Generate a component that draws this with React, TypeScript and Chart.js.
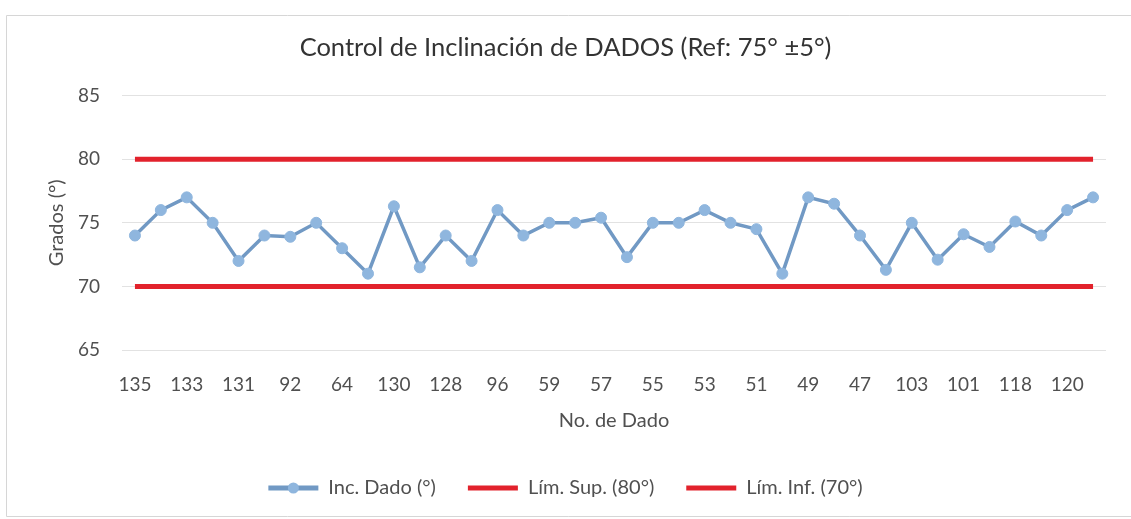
import React, { useEffect, useRef } from "react";
import { Chart, registerables } from "chart.js";

Chart.register(...registerables);

const categories = [
  "135", "134", "133", "132", "131", "93", "92", "65", "64", "129",
  "130", "127", "128", "95", "96", "58", "59", "56", "57", "54",
  "55", "52", "53", "50", "51", "48", "49", "46", "47", "102",
  "103", "100", "101", "117", "118", "119", "120", "121",
];

const incDado = [
  74, 76, 77, 75, 72, 74, 73.9, 75, 73, 71,
  76.3, 71.5, 74, 72, 76, 74, 75, 75, 75.4, 72.3,
  75, 75, 76, 75, 74.5, 71, 77, 76.5, 74, 71.3,
  75, 72.1, 74.1, 73.1, 75.1, 74, 76, 77,
];

const limSup = [
  80, 80, 80, 80, 80, 80, 80, 80, 80, 80,
  80, 80, 80, 80, 80, 80, 80, 80, 80, 80,
  80, 80, 80, 80, 80, 80, 80, 80, 80, 80,
  80, 80, 80, 80, 80, 80, 80, 80,
];

const limInf = [
  70, 70, 70, 70, 70, 70, 70, 70, 70, 70,
  70, 70, 70, 70, 70, 70, 70, 70, 70, 70,
  70, 70, 70, 70, 70, 70, 70, 70, 70, 70,
  70, 70, 70, 70, 70, 70, 70, 70,
];

const seriesNames = ["Inc. Dado (°)", "Lím. Sup. (80°)", "Lím. Inf. (70°)"];
const titleText = "Control de Inclinación de DADOS (Ref: 75° ±5°)";
const yTitle = "Grados (°)";
const xTitle = "No. de Dado";

const FONT = "Lato, 'Open Sans', sans-serif";
const TEXT = "#505050";
const BLUE_LINE = "#7199c4";
const BLUE_MARK = "#8fb6de";
const RED = "#e2222c";
const LEGEND_BOX = 50;

export default function App() {
  const ref = useRef<HTMLCanvasElement>(null);

  useEffect(() => {
    document.body.style.margin = "0";
    const frame = {
      id: "frame",
      beforeDraw(chart: any) {
        const ctx = chart.ctx;
        ctx.save();
        ctx.fillStyle = "#ffffff";
        ctx.fillRect(0, 0, chart.width, chart.height);
        ctx.strokeStyle = "#d6d6d6";
        ctx.lineWidth = 1;
        ctx.beginPath();
        ctx.moveTo(1131, 15.5);
        ctx.lineTo(6.5, 15.5);
        ctx.lineTo(6.5, 516.5);
        ctx.lineTo(1131, 516.5);
        ctx.stroke();
        ctx.restore();
      },
      afterDraw(chart: any) {
        const boxes = chart.legend && chart.legend.legendHitBoxes;
        if (!boxes || !boxes[0]) return;
        const b = boxes[0];
        const ctx = chart.ctx;
        ctx.save();
        ctx.fillStyle = BLUE_MARK;
        ctx.beginPath();
        ctx.arc(b.left + LEGEND_BOX / 2, b.top + b.height / 2, 5.5, 0, Math.PI * 2);
        ctx.fill();
        ctx.restore();
      },
    };

    const chart = new Chart(ref.current!, {
      type: "line",
      data: {
        labels: categories,
        datasets: [
          {
            label: seriesNames[0],
            data: incDado,
            borderColor: BLUE_LINE,
            backgroundColor: BLUE_MARK,
            borderWidth: 3.5,
            pointRadius: 5.5,
            pointBackgroundColor: BLUE_MARK,
            pointBorderColor: BLUE_MARK,
            pointBorderWidth: 1,
            tension: 0,
          },
          {
            label: seriesNames[1],
            data: limSup,
            borderColor: RED,
            backgroundColor: RED,
            borderWidth: 5,
            pointRadius: 0,
          },
          {
            label: seriesNames[2],
            data: limInf,
            borderColor: RED,
            backgroundColor: RED,
            borderWidth: 5,
            pointRadius: 0,
          },
        ],
      },
      plugins: [frame],
      options: {
        animation: false,
        responsive: false,
        layout: { padding: { left: 25, right: 25, top: 0, bottom: 11 } },
        plugins: {
          tooltip: { enabled: false },
          title: {
            display: true,
            text: titleText,
            color: "#333333",
            font: { family: FONT, size: 25.5, weight: "normal" },
            padding: { top: 32, bottom: 33 },
          },
          legend: {
            position: "bottom",
            labels: {
              color: TEXT,
              font: { family: FONT, size: 20 },
              boxWidth: LEGEND_BOX,
              boxHeight: 5,
              padding: 32,
              generateLabels: (c: any) =>
                c.data.datasets.map((d: any, i: number) => ({
                  text: d.label,
                  fillStyle: d.borderColor,
                  strokeStyle: d.borderColor,
                  lineWidth: 0,
                  hidden: false,
                  datasetIndex: i,
                  fontColor: TEXT,
                })),
            },
          },
        },
        scales: {
          x: {
            offset: true,
            grid: { display: false, drawTicks: false },
            border: { display: false },
            ticks: {
              autoSkip: false,
              maxRotation: 0,
              color: TEXT,
              font: { family: FONT, size: 19 },
              padding: 23,
              callback: (_v: any, i: number) => (i % 2 === 0 ? categories[i] : ""),
            },
            title: {
              display: true,
              text: xTitle,
              color: TEXT,
              font: { family: FONT, size: 20 },
              padding: { top: 0, bottom: 13 },
            },
            afterFit: (s: any) => {
              s.height = 96;
            },
          },
          y: {
            min: 65,
            max: 85,
            ticks: {
              stepSize: 5,
              color: TEXT,
              font: { family: FONT, size: 19 },
              padding: 22,
            },
            grid: { color: "#e2e2e2", lineWidth: 1, drawTicks: false },
            border: { display: false },
            title: {
              display: true,
              text: yTitle,
              color: TEXT,
              font: { family: FONT, size: 20 },
              padding: { top: 20, bottom: 0 },
            },
            afterFit: (s: any) => {
              s.width = 97;
            },
          },
        },
      },
    });
    return () => chart.destroy();
  }, []);

  return (
    <div style={{ width: 1131, height: 519 }}>
      <canvas ref={ref} width={1131} height={519} />
    </div>
  );
}
